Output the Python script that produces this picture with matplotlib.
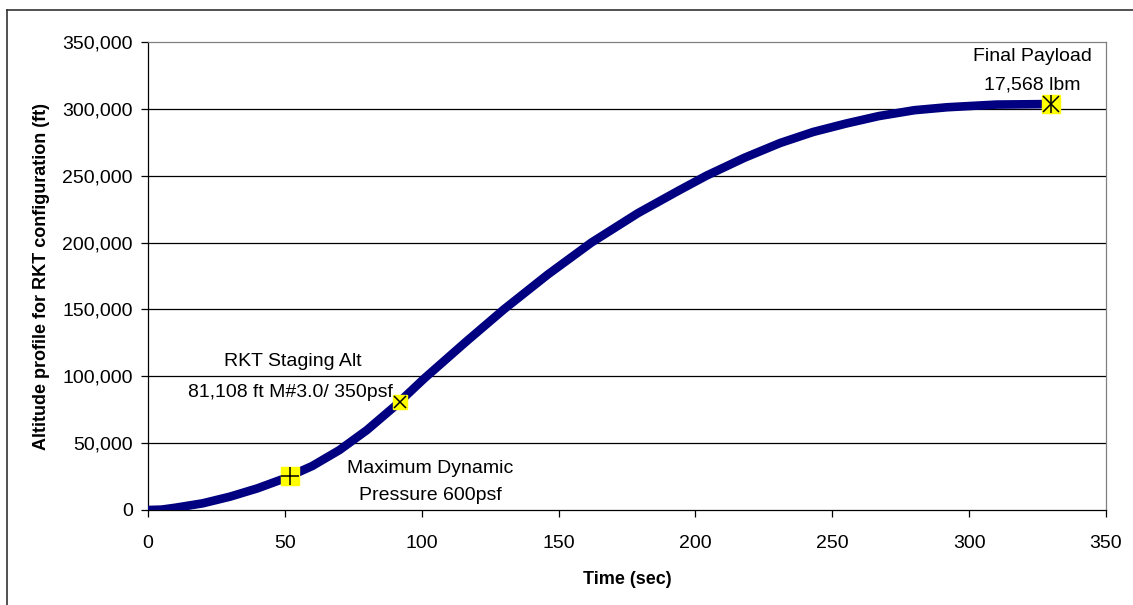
import matplotlib.pyplot as plt
from matplotlib.lines import Line2D
from matplotlib.ticker import FuncFormatter

plt.rcParams['font.family'] = ['Liberation Sans', 'DejaVu Sans']

# data
time_s = [0, 5, 10, 20, 30, 40, 50, 60, 70, 80, 90, 101, 116, 130, 146, 162,
          179, 194, 204, 218, 231, 243, 255, 267, 280, 292, 310, 330]
alt_ft = [0, 300, 1700, 5000, 10000, 16200, 23700, 32900, 44900, 59800, 77300,
          98500, 125500, 150000, 176000, 200000, 222000, 239000, 250000, 263500,
          274500, 282700, 289000, 294600, 299000, 301200, 303200, 303600]

# event points
maxq_t, maxq_alt = 52, 25400
stage_t, stage_alt = 92, 81108
final_t, final_alt = 330, 303600

fig = plt.figure(figsize=(11.33, 6.05), dpi=100)
ax = fig.add_axes([148/1133, 1 - 510/605, (1106-148)/1133, (510-42)/605])

ax.set_xlim(0, 350)
ax.set_ylim(0, 350000)
ax.set_xticks(range(0, 351, 50))
ax.set_yticks(range(0, 350001, 50000))
ax.yaxis.set_major_formatter(FuncFormatter(lambda v, p: f'{int(v):,}'))

# horizontal grid
for v in range(50000, 350000, 50000):
    ax.axhline(v, color='black', lw=0.9, zorder=1)

ax.plot(time_s, alt_ft, color='#000080', lw=6.2, solid_capstyle='round',
        solid_joinstyle='round', zorder=3)

# markers
ax.plot(maxq_t, maxq_alt, marker='s', ms=13, color='#ffff00', mec='#ffff00', zorder=4)
ax.plot(maxq_t, maxq_alt, marker='+', ms=13, color='black', mew=1.1, zorder=5)
ax.plot(stage_t, stage_alt, marker='s', ms=10, color='#ffff00', mec='#ffff00', zorder=4)
ax.plot(stage_t, stage_alt, marker='x', ms=9, color='black', mew=1.1, zorder=5)
ax.plot(final_t, final_alt, marker='s', ms=13.5, color='#ffff00', mec='#ffff00', zorder=4)
ax.plot(final_t, final_alt, marker='x', ms=11, color='black', mew=1.1, zorder=5)
ax.plot(final_t, final_alt, marker='|', ms=13, color='black', mew=1.1, zorder=5)

# annotations
fs = 14
ax.text(53, 111000, 'RKT Staging Alt', fontsize=fs, ha='center', va='center')
ax.text(52, 88000, '81,108 ft M#3.0/ 350psf', fontsize=fs, ha='center', va='center')
ax.text(103, 31000, 'Maximum Dynamic', fontsize=fs, ha='center', va='center')
ax.text(103, 11000, 'Pressure 600psf', fontsize=fs, ha='center', va='center')
ax.text(323, 339000, 'Final Payload', fontsize=fs, ha='center', va='center')
ax.text(323, 318000, '17,568 lbm', fontsize=fs, ha='center', va='center')

ax.set_xlabel('Time (sec)', fontsize=13, fontweight='bold', labelpad=14)
ax.set_ylabel('Altitude profile for RKT configuration (ft)', fontsize=13,
              fontweight='bold', labelpad=9)

ax.tick_params(axis='both', labelsize=fs, direction='out', length=5, width=0.9)
ax.tick_params(axis='x', pad=13)
ax.tick_params(axis='y', pad=6)

for s in ['left', 'bottom']:
    ax.spines[s].set_color('black')
    ax.spines[s].set_linewidth(0.9)
for s in ['top', 'right']:
    ax.spines[s].set_color('#808080')
    ax.spines[s].set_linewidth(0.9)

# outer chart border (left and top edges visible)
fig.add_artist(Line2D([7/1133, 7/1133], [0, 1 - 10/605], color='#333333', lw=1.2))
fig.add_artist(Line2D([7/1133, 1], [1 - 10/605, 1 - 10/605], color='#333333', lw=1.2))

fig.savefig('out.png', dpi=100)
